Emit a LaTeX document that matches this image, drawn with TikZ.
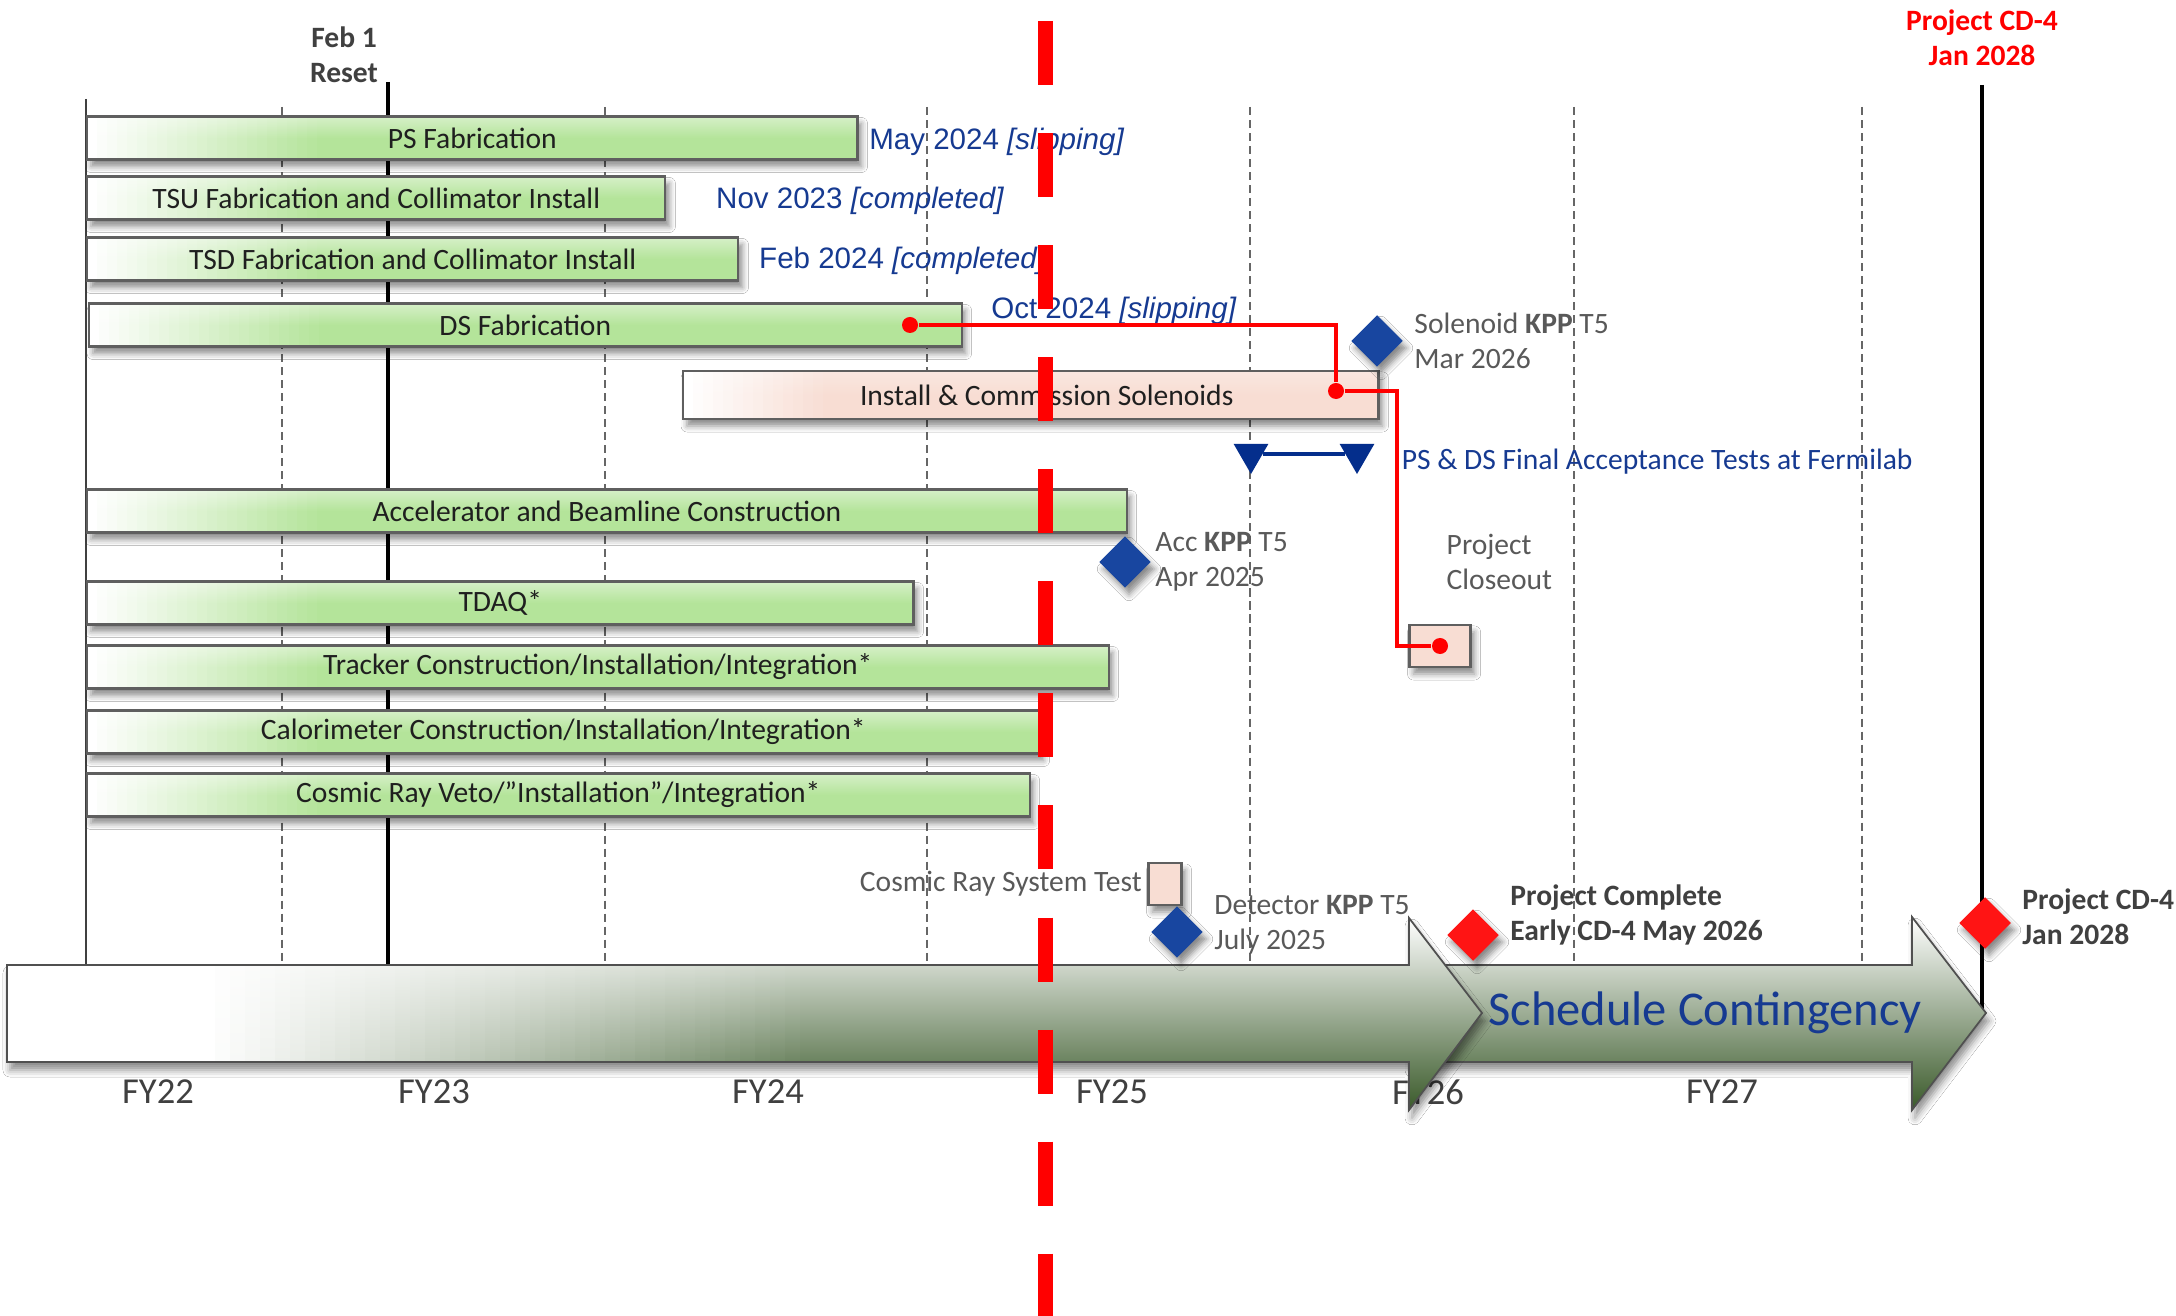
\documentclass[tikz,border=0pt]{standalone}
\usepackage{fontspec}
\setmainfont{Carlito}
\newfontfamily\arialfont{Liberation Sans}
\usetikzlibrary{positioning, shapes.geometric, shadows.blur}

\definecolor{barGreen}{RGB}{180,228,154}
\definecolor{barGreenLight}{RGB}{214,240,200}
\definecolor{barPink}{RGB}{248,221,211}
\definecolor{barEdge}{RGB}{95,95,95}
\definecolor{msBlue}{RGB}{22,58,145}
\definecolor{kppBlue}{RGB}{24,70,160}
\definecolor{triBlue}{RGB}{4,46,140}
\definecolor{textGray}{RGB}{89,89,89}
\definecolor{darkGray}{RGB}{64,64,64}
\definecolor{arrowDark}{RGB}{58,90,42}
\definecolor{arrowEdge}{RGB}{80,80,80}
\definecolor{cdRed}{RGB}{255,20,20}

\newcommand\chartfont{\fontsize{8.4}{10}\selectfont}
\newcommand\fyfont{\fontsize{10.4}{12}\selectfont}

\tikzset{
    softshadow/.style={blur shadow={shadow xshift=0.04cm, shadow yshift=-0.07cm,
        shadow blur radius=0.06cm, shadow opacity=45}}, % grey blurred shadow under boxes
    fadein/.style 2 args={path picture={\foreach \i [evaluate=\i as \op using 1-\i/#2] in {0,...,#2}
        \fill[white, opacity=\op] ([xshift=\i*#1]path picture bounding box.south west)
            rectangle ([xshift=\i*#1+#1]path picture bounding box.north west);}}, % white start of a bar
    bar/.style={draw=barEdge, line width=0.6pt, top color=barGreenLight, bottom color=barGreen,
        middle color=barGreen, minimum height=0.43cm, inner sep=0pt, anchor=west,
        font=\chartfont, text=black!88, softshadow, fadein={0.1cm}{23}}, % green activity bar
    pinkbar/.style={bar, top color=barPink!70!white, bottom color=barPink, middle color=barPink,
        minimum height=0.48cm, fadein={0.1cm}{14}}, % installation bar
    pinkbox/.style={draw=barEdge, line width=0.6pt, fill=barPink, minimum width=0.33cm,
        minimum height=0.42cm, inner sep=0pt, softshadow}, % small test box
    mstext/.style={font={\arialfont\chartfont}, text=msBlue, anchor=west, inner sep=0.1cm}, % finish dates
    kpptext/.style={font=\chartfont, text=textGray, align=left, inner sep=0.1cm}, % milestone captions
    boldtext/.style={font=\chartfont\bfseries, text=darkGray, align=left, inner sep=0.1cm},
    kppdia/.style={diamond, fill=kppBlue, minimum width=0.52cm, minimum height=0.52cm,
        inner sep=0pt, softshadow}, % KPP milestone
    cddia/.style={kppdia, fill=cdRed}, % CD-4 milestone
    reddot/.style={circle, fill=red, minimum size=0.16cm, inner sep=0pt},
    redlink/.style={draw=red, line width=1.1pt},
    tri/.style={regular polygon, regular polygon sides=3, shape border rotate=180,
        fill=triBlue, minimum size=0.40cm, inner sep=0pt},
    gridline/.style={draw=black!60, line width=0.7pt, dash pattern=on 2.3pt off 1.4pt},
    fylabel/.style={font=\fyfont, text=darkGray},
    arrowfill/.style={draw=arrowEdge, line width=0.5pt, top color=white, bottom color=arrowDark,
        blur shadow={shadow xshift=0.03cm, shadow yshift=-0.08cm, shadow blur radius=0.07cm, shadow opacity=45}},
    todayline/.style={draw=red, line width=0.15cm, dash pattern=on 0.64cm off 0.48cm},
}

\begin{document}
\begin{tikzpicture}[x=0.01cm, y=-0.01cm]
    \useasboundingbox[fill=white] (0,0) rectangle (2176,1316);

    % year grid
    \draw[gridline] (282,107) -- (282,965) (605,107) -- (605,965) (927,107) -- (927,965)
        (1250,107) -- (1250,965) (1574,107) -- (1574,965) (1862,107) -- (1862,965);
    \draw[darkGray, line width=0.85pt] (86,99) -- (86,965);
    \draw[line width=1.3pt] (388,82) -- (388,965);
    \draw[line width=1.3pt] (1982,85) -- (1982,1013);

    \node[boldtext, align=center] (reset) at (344,55) {Feb 1\\Reset};
    \node[boldtext, align=center, text=red] (cdtop) at (1982,38) {Project CD-4\\Jan 2028};

    % activity bars
    \node[bar, minimum width=7.70cm] (ps) at (86,138) {PS Fabrication};
    \node[bar, minimum width=5.78cm] (tsu) at (86,198) {TSU Fabrication and Collimator Install};
    \node[bar, minimum width=6.51cm] (tsd) at (86,259) {TSD Fabrication and Collimator Install};
    \node[bar, minimum width=8.72cm] (ds) at (88,325) {DS Fabrication};
    \node[pinkbar, minimum width=6.95cm] (inst) at (682,395) {\hspace*{0.32cm}\raisebox{-0.04cm}{Install \& Commission Solenoids}};
    \node[bar, minimum width=10.39cm] (acc) at (86,511) {Accelerator and Beamline Construction};
    \node[bar, minimum width=8.26cm] (tdaq) at (86,603) {TDAQ*};
    \node[bar, minimum width=10.21cm] (trk) at (86,667) {Tracker Construction/Installation/Integration*};
    \node[bar, minimum width=9.52cm] (cal) at (86,732) {Calorimeter Construction/Installation/Integration*};
    \node[bar, minimum width=9.42cm] (crv) at (86,795) {Cosmic Ray Veto/”Installation”/Integration*};

    \node[mstext, right=0pt of ps, yshift=-0.04cm] (psdate) {May 2024 \textit{[slipping]}};
    \node[mstext, right=0.39cm of tsu, yshift=-0.03cm] (tsudate) {Nov 2023 \textit{[completed]}};
    \node[mstext, right=0.09cm of tsd, yshift=-0.02cm] (tsddate) {Feb 2024 \textit{[completed]}};
    \node[mstext, right=0.18cm of ds, yshift=0.14cm] (dsdate) {Oct 2024 \textit{[slipping]}};

    % solenoid chain
    \node[pinkbox, minimum width=0.61cm] (cobox) at (1440,646) {};
    \node[kpptext, anchor=west] (colbl) at (1436,562) {Project\\Closeout};
    \node[reddot] (dsdot) at (910,325) {};
    \node[reddot] (indot) at (1336,391) {};
    \node[reddot] (codot) at (cobox) {};
    \coordinate (cobend) at (1397,646);
    \draw[redlink] (dsdot) -| (indot);
    \draw[redlink] (indot) -| (cobend) -- (codot);

    \node[tri] (tl) at (1251,454) {};
    \node[tri] (tr) at (1357,454) {};
    \draw[triBlue, line width=1pt] (tl) -- (tr);
    \node[font=\chartfont, text=msBlue, anchor=west, right=0.2cm of tr, yshift=-0.08cm] (fat) {PS \& DS Final Acceptance Tests at Fermilab};

    % milestones
    \node[kppdia] (soldia) at (1377,341) {};
    \node[kpptext, right=0pt of soldia] (sollbl) {Solenoid \textbf{KPP} T5\\Mar 2026};
    \node[kppdia] (accdia) at (1125,562) {};
    \node[kpptext, right=-0.07cm of accdia] (acclbl) {Acc \textbf{KPP} T5\\Apr 2025};
    \node[pinkbox] (crbox) at (1165,884) {};
    \node[kpptext, left=0pt of crbox, inner sep=0.05cm] (crlbl) {Cosmic Ray System Test};

    % fiscal years
    \node[fylabel] (fy22) at (158,1092) {FY22};
    \node[fylabel] (fy23) at (434,1092) {FY23};
    \node[fylabel] (fy24) at (768,1092) {FY24};
    \node[fylabel] (fy25) at (1112,1092) {FY25};
    \node[fylabel] (fy26) at (1428,1092) {FY26};
    \node[fylabel] (fy27) at (1722,1092) {FY27};

    % schedule arrows
    \path[arrowfill] (1409,965) -- (1912,965) -- (1912,917) -- (1986,1013) -- (1912,1110)
        -- (1912,1062) -- (1409,1062) -- cycle;
    \path[arrowfill] (7,965) -- (1409,965) -- (1409,918) -- (1482,1013) -- (1409,1110)
        -- (1409,1062) -- (7,1062) -- cycle;
    \fill[white] (8,966) rectangle (201,1061);
    \foreach \i [evaluate=\i as \op using 1-\i/40] in {0,...,39}
        \fill[white, opacity=\op] ({200+\i*15},966) rectangle ({215+\i*15},1061);
    \node[font=\fontsize{13.8}{16}\selectfont, text=msBlue] (sched) at (1705,1013) {Schedule Contingency};

    \node[kppdia] (detdia) at (1177,932) {};
    \node[kpptext, right=0pt of detdia, yshift=0.07cm] (detlbl) {Detector \textbf{KPP} T5\\July 2025};
    \node[cddia] (pcdia) at (1473,935) {};
    \node[boldtext, right=0pt of pcdia, yshift=0.2cm] (pclbl) {Project Complete\\Early CD-4 May 2026};
    \node[cddia] (cddia) at (1985,923) {};
    \node[boldtext, right=0pt of cddia, yshift=0.06cm] (cdlbl) {Project CD-4\\Jan 2028};

    % status date
    \draw[todayline] (1045,21) -- (1045,1340);
\end{tikzpicture}
\end{document}
